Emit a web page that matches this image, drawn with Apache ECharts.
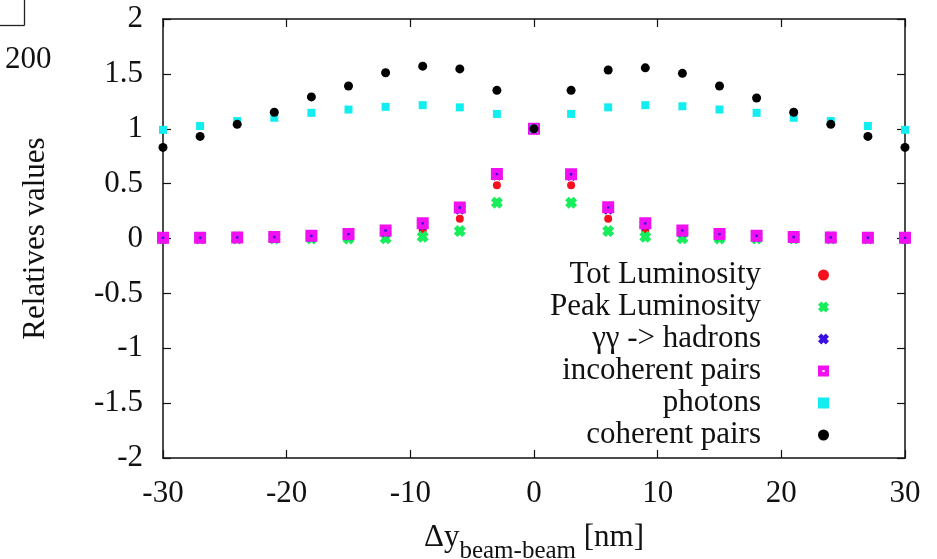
<!DOCTYPE html>
<html>
<head>
<meta charset="utf-8">
<script src="https://cdn.jsdelivr.net/npm/echarts@6/dist/echarts.min.js"></script>
<style>html,body{margin:0;padding:0;background:#fff;}#c{width:937px;height:559px;}</style>
</head>
<body>
<div id="c"></div>
<script>
// ---- data ----
const dy = [-30,-27,-24,-21,-18,-15,-12,-9,-6,-3,0,3,6,9,12,15,18,21,24,27,30];
const totLuminosity  = [0,0,0,0.002,0.005,0.012,0.03,0.072,0.18,0.485,1,0.485,0.18,0.072,0.03,0.012,0.005,0.002,0,0,0];
const peakLuminosity = [0,0,0,0,0,0,0.002,0.015,0.068,0.326,1,0.326,0.068,0.015,0.002,0,0,0,0,0,0];
const ggHadrons      = [0.005,0.006,0.009,0.012,0.02,0.035,0.066,0.128,0.272,0.58,1,0.578,0.272,0.128,0.066,0.035,0.02,0.012,0.009,0.006,0.005];
const incoherentPairs= [0.006,0.007,0.01,0.014,0.024,0.04,0.073,0.138,0.283,0.587,1,0.585,0.284,0.138,0.074,0.04,0.025,0.014,0.01,0.007,0.006];
const photons        = [0.99,1.025,1.07,1.10,1.145,1.175,1.20,1.215,1.195,1.135,1,1.135,1.195,1.215,1.205,1.175,1.145,1.10,1.07,1.025,0.99];
const coherentPairs  = [0.83,0.93,1.04,1.15,1.29,1.39,1.51,1.57,1.545,1.35,1,1.35,1.535,1.555,1.505,1.39,1.28,1.15,1.04,0.93,0.83];
const seriesNames = ['Tot Luminosity','Peak Luminosity','γγ -> hadrons','incoherent pairs','photons','coherent pairs'];
const yTicks = [-2,-1.5,-1,-0.5,0,0.5,1,1.5,2];
const xTicks = [-30,-20,-10,0,10,20,30];

const pair = arr => dy.map((x,i)=>[x, arr[i]]);
const FONT = '"Liberation Serif", "Times New Roman", serif';
const XMARK = 'path://M0,3L3,0L5,2L7,0L10,3L8,5L10,7L7,10L5,8L3,10L0,7L2,5Z';
const HOLLOW_SQ = 'path://M0,0H10V10H0Z M4,4V6H6V4Z';

const chart = echarts.init(document.getElementById('c'), null, {renderer:'canvas'});
const axisLine = {show:true, onZero:false, lineStyle:{color:'#111', width:1.5}};
const tick = {show:true, inside:true, length:8, lineStyle:{color:'#111', width:1.2}};

function sc(name, data, symbol, size, color){
  return {name, type:'scatter', data:pair(data), symbol, symbolSize:size,
          itemStyle:{color, opacity:1}, emphasis:{disabled:true}, animation:false};
}

chart.setOption({
  animation:false,
  backgroundColor:'#fff',
  grid:{left:163, right:32, top:19, bottom:101, containLabel:false, outerBoundsMode:'none'},
  xAxis:[{
    type:'value', min:-30, max:30, interval:10, position:'bottom',
    axisLine, axisTick:tick, splitLine:{show:false},
    axisLabel:{color:'#111', fontFamily:FONT, fontSize:31, margin:20},
    name:'{m|Δy}{s|beam-beam}{m| [nm]}', nameLocation:'middle', nameGap:64,
    nameTextStyle:{rich:{
      m:{fontFamily:FONT, fontSize:31, color:'#111', verticalAlign:'bottom', padding:[0,0,11,0]},
      s:{fontFamily:FONT, fontSize:25, color:'#111', verticalAlign:'bottom'}
    }}
  },{
    type:'value', min:-30, max:30, interval:10, position:'top',
    axisLine, axisTick:tick, axisLabel:{show:false}, splitLine:{show:false}
  }],
  yAxis:[{
    type:'value', min:-2, max:2, interval:0.5, position:'left',
    axisLine, axisTick:tick, splitLine:{show:false},
    axisLabel:{color:'#111', fontFamily:FONT, fontSize:31, margin:20},
    name:'Relatives values', nameLocation:'middle', nameGap:112, nameRotate:90,
    nameTextStyle:{fontFamily:FONT, fontSize:31, color:'#111'}
  },{
    type:'value', min:-2, max:2, interval:0.5, position:'right',
    axisLine, axisTick:tick, axisLabel:{show:false}, splitLine:{show:false}
  }],
  legend:{
    orient:'vertical', right:108, top:259, align:'right', padding:0, itemGap:0,
    itemWidth:11, itemHeight:11, selectedMode:false,
    textStyle:{fontFamily:FONT, fontSize:31, color:'#111', lineHeight:32, width:250, align:'right', padding:[0,52,0,0]},
    data:seriesNames
  },
  graphic:[
    {type:'line', shape:{x1:0,y1:25.5,x2:24.5,y2:25.5}, style:{stroke:'#222', lineWidth:1.3}},
    {type:'line', shape:{x1:24.5,y1:0,x2:24.5,y2:25.5}, style:{stroke:'#222', lineWidth:1.3}},
    {type:'text', left:5, top:44, style:{text:'200', fontFamily:FONT, fontSize:31, fill:'#111'}}
  ],
  series:[
    sc(seriesNames[0], totLuminosity, 'circle', 8, '#f5101e'),
    sc(seriesNames[1], peakLuminosity, XMARK, 12, '#18ee5c'),
    sc(seriesNames[2], ggHadrons, XMARK, 12, '#3a0ee0'),
    sc(seriesNames[3], incoherentPairs, HOLLOW_SQ, 12, '#f010f0'),
    sc(seriesNames[4], photons, 'rect', 8, '#12eef0'),
    sc(seriesNames[5], coherentPairs, 'circle', 9, '#000000')
  ]
});
</script>
</body>
</html>
